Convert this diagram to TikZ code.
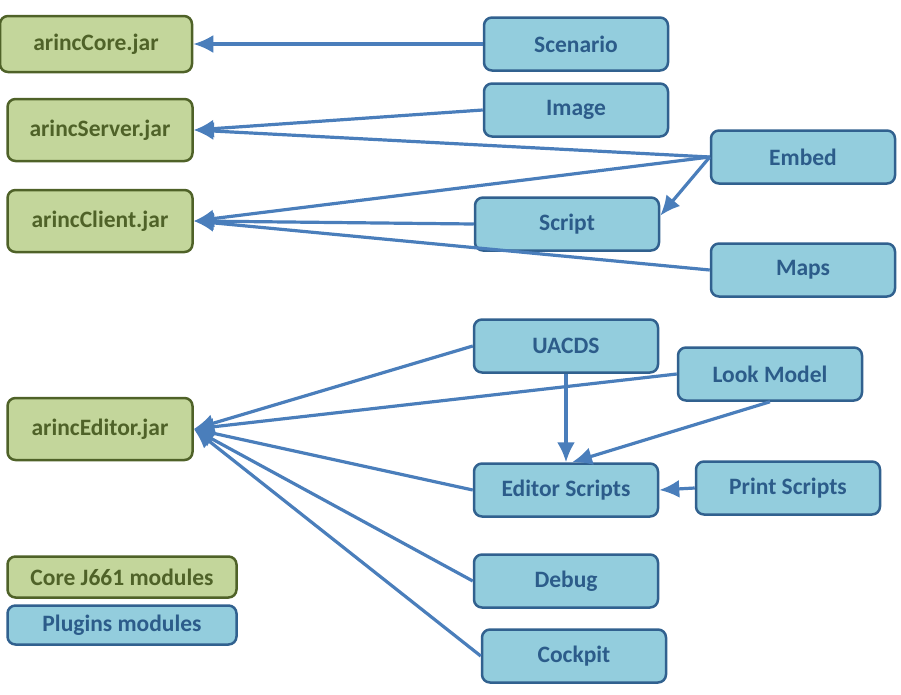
\documentclass[tikz,border=0pt]{standalone}
\usepackage{fontspec}
\setmainfont{Carlito}
\usetikzlibrary{arrows,arrows.meta,positioning,calc}
\definecolor{coregreen}{HTML}{C3D69B}
\definecolor{coredark}{HTML}{4F6228}
\definecolor{plugblue}{HTML}{93CDDD}
\definecolor{plugdark}{HTML}{31618F}
\definecolor{plugtext}{HTML}{2C5C8A}
\definecolor{linkblue}{HTML}{4A7EBB}
\tikzstyle{coremod}=[draw=coredark,fill=coregreen,text=coredark,rounded corners=8pt,line width=2.5pt,minimum width=185pt,minimum height=62pt,inner sep=0pt,font=\fontsize{23.5}{28}\selectfont\bfseries]
\tikzstyle{plugmod}=[draw=plugdark,fill=plugblue,text=plugtext,rounded corners=8pt,line width=2.5pt,minimum width=184pt,minimum height=53pt,inner sep=0pt,font=\fontsize{23.5}{28}\selectfont\bfseries]
\tikzstyle{dep}=[-{Latex[length=20pt,width=18pt]},draw=linkblue,line width=3.2pt]

\begin{document}
\begin{tikzpicture}[x=1pt,y=-1pt]
    \useasboundingbox (0,0) rectangle (901,694);
    % jar modules
    \node [coremod,minimum width=192pt,minimum height=56pt] (core) at (96,44) {arincCore.jar};
    \node [coremod] (server) at (100,130) {arincServer.jar};
    \node [coremod] (client) at (100,221) {arincClient.jar};
    \node [coremod] (editor) at (100,429) {arincEditor.jar};
    % plugins
    \node [plugmod] (scenario) at (576,44) {Scenario};
    \node [plugmod] (image) at (576,110) {Image};
    \node [plugmod] (embed) at (803,157) {Embed};
    \node [plugmod] (script) at (567,224) {Script};
    \node [plugmod] (maps) at (803,270) {Maps};
    \node [plugmod] (uacds) at (566,346) {UACDS};
    \node [plugmod] (look) at (770,374) {Look Model};
    \node [plugmod] (edscripts) at (566,490) {Editor Scripts};
    \node [plugmod] (print) at (788,488) {Print Scripts};
    \node [plugmod] (debug) at (566,581) {Debug};
    \node [plugmod] (cockpit) at (574,656) {Cockpit};
    % legend
    \node [coremod,minimum width=229pt,minimum height=41pt] (legcore) at (122,577) {Core J661 modules};
    \node [plugmod,minimum width=229pt,minimum height=39pt] (legplug) at (122,625) {Plugins modules};

    \draw [dep] (scenario.west) -- (core.east);
    \draw [dep] (image.west) -- (server.east);
    \draw [dep] (embed.west) -- (server.east);
    \draw [dep] (embed.west) -- (client.east);
    \draw [dep] (embed.west) -- ($(script.north east)!0.35!(script.south east)$);
    \draw [dep] (script.west) -- (client.east);
    \draw [dep] (maps.west) -- (client.east);
    \draw [dep] (uacds.west) -- (editor.east);
    \draw [dep] (look.west) -- (editor.east);
    \draw [dep] (edscripts.west) -- (editor.east);
    \draw [dep] (debug.west) -- (editor.east);
    \draw [dep] (cockpit.west) -- (editor.east);
    \draw [dep] (uacds.south) -- (edscripts.north);
    \draw [dep] (look.south) -- ($(edscripts.north)+(6,0)$);
    \draw [dep] (print.west) -- (edscripts.east);
\end{tikzpicture}
\end{document}
